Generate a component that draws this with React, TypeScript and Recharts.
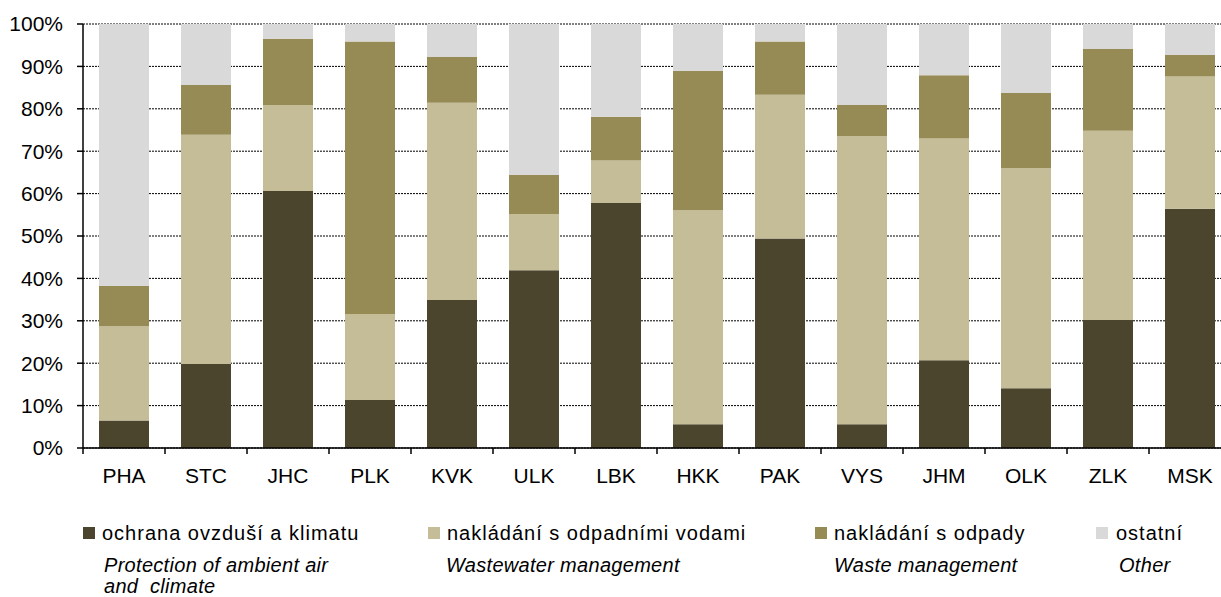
import React from 'react';
import { BarChart, Bar, XAxis, YAxis, CartesianGrid, Legend } from 'recharts';

const categories = ['PHA', 'STC', 'JHC', 'PLK', 'KVK', 'ULK', 'LBK', 'HKK', 'PAK', 'VYS', 'JHM', 'OLK', 'ZLK', 'MSK'];
const airClimate = [6.5, 19.8, 60.6, 11.3, 34.9, 41.9, 57.8, 5.6, 49.4, 5.6, 20.7, 14.1, 30.2, 56.4];
const wastewater = [22.2, 54.1, 20.3, 20.3, 46.5, 13.3, 10.0, 50.5, 33.9, 67.9, 52.3, 51.9, 44.6, 31.2];
const waste = [9.5, 11.7, 15.6, 64.3, 10.8, 9.2, 10.3, 32.8, 12.6, 7.4, 14.9, 17.7, 19.3, 5.1];
const other = [61.8, 14.4, 3.5, 4.1, 7.8, 35.6, 21.9, 11.1, 4.1, 19.1, 12.1, 16.3, 5.9, 7.3];

const seriesKeys = ['air', 'water', 'waste', 'other'];
const seriesNamesCz = ['ochrana ovzduší a klimatu', 'nakládání s odpadními vodami', 'nakládání s odpady', 'ostatní'];
const seriesNamesEn = [['Protection of ambient air', 'and  climate'], ['Wastewater management'], ['Waste management'], ['Other']];
const seriesColors = ['#4B452E', '#C5BD97', '#968B55', '#D9D9D9'];
const yTicks = [0, 10, 20, 30, 40, 50, 60, 70, 80, 90, 100];

const data = categories.map((c, i) => ({
  cat: c,
  air: airClimate[i],
  water: wastewater[i],
  waste: waste[i],
  other: other[i],
}));

const FONT = '"Liberation Sans", Arial, Helvetica, sans-serif';
const CHART_W = 1231;
const CHART_H = 597;
const Y_AXIS_W = 83;
const BAND = (CHART_W - Y_AXIS_W) / categories.length;
const X_TICK_OFFSET = 20;

const XTick = (props: any) => {
  const { x, y, payload } = props;
  const axisY = y - X_TICK_OFFSET;
  const bx = x - BAND / 2;
  return (
    <g>
      <line x1={bx} x2={bx} y1={axisY} y2={axisY + 6} stroke="#000" strokeWidth={1.5} />
      <text x={x} y={y} dy="0.71em" textAnchor="middle" fontSize={21} fontFamily={FONT} fill="#000">
        {payload.value}
      </text>
    </g>
  );
};

const legendLayout = [
  { sq: 83, txt: 102, en: 104 },
  { sq: 428, txt: 447, en: 446 },
  { sq: 815, txt: 834, en: 834 },
  { sq: 1096, txt: 1116, en: 1119 },
];

const LegendContent = (props: any) => {
  const payload = props.payload || [];
  return (
    <div style={{ position: 'relative', width: 1221, height: 80, fontFamily: FONT, color: '#000' }}>
      {payload.map((p: any, i: number) => {
        const idx = seriesKeys.indexOf(p.dataKey);
        const k = idx >= 0 ? idx : i;
        const pos = legendLayout[k];
        return (
          <React.Fragment key={k}>
            <div style={{ position: 'absolute', left: pos.sq, top: 10, width: 12, height: 12, background: p.color }} />
            <div style={{ position: 'absolute', left: pos.txt, top: 6, fontSize: 20, lineHeight: '20px', letterSpacing: 1, whiteSpace: 'pre' }}>
              {p.value}
            </div>
            {seriesNamesEn[k].map((line, j) => (
              <div key={j} style={{ position: 'absolute', left: pos.en, top: 38 + j * 21, fontSize: 20, lineHeight: '21px', fontStyle: 'italic', letterSpacing: 0.3, whiteSpace: 'pre' }}>
                {line}
              </div>
            ))}
          </React.Fragment>
        );
      })}
    </div>
  );
};

export default function App() {
  return (
    <div style={{ position: 'fixed', left: 0, top: 0, width: 1221, height: 597, overflow: 'hidden', background: '#fff' }}>
      <BarChart
        width={CHART_W}
        height={CHART_H}
        data={data}
        margin={{ top: 24, right: 0, bottom: 0, left: 0 }}
        barSize={50}
      >
        <CartesianGrid vertical={false} stroke="#000" strokeDasharray="2 1" strokeWidth={1} />
        <XAxis
          dataKey="cat"
          height={69}
          tickSize={0}
          tickMargin={X_TICK_OFFSET}
          tick={<XTick />}
          axisLine={{ stroke: '#000', strokeWidth: 1.5 }}
          tickLine={false}
          interval={0}
        />
        <YAxis
          width={Y_AXIS_W}
          domain={[0, 100]}
          ticks={yTicks}
          tickFormatter={(v: number) => `${v}%`}
          tick={{ fontSize: 21, fontFamily: FONT, fill: '#000' }}
          tickSize={6}
          tickMargin={14}
          axisLine={{ stroke: '#000', strokeWidth: 1.5 }}
          tickLine={{ stroke: '#000', strokeWidth: 1.5 }}
          allowDataOverflow
        />
        {seriesKeys.map((k, i) => (
          <Bar key={k} dataKey={k} name={seriesNamesCz[i]} stackId="s" fill={seriesColors[i]} isAnimationActive={false} />
        ))}
        <Legend
          verticalAlign="bottom"
          content={<LegendContent />}
          wrapperStyle={{ position: 'absolute', left: 0, top: 517, width: 1221, height: 80 }}
        />
      </BarChart>
    </div>
  );
}
